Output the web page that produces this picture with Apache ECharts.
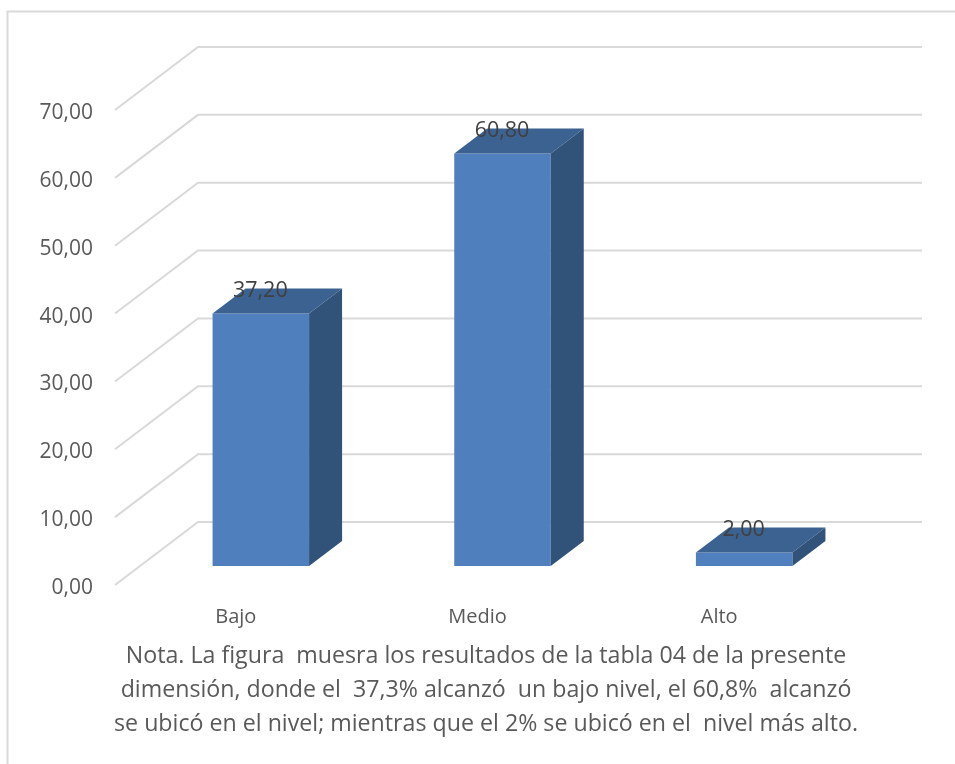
<!DOCTYPE html>
<html><head><meta charset="utf-8">
<style>html,body{margin:0;padding:0;background:#fff}#c{width:955px;height:764px}</style>
<script src="https://cdn.jsdelivr.net/npm/echarts@6/dist/echarts.min.js"></script>
</head><body><div id="c"></div>
<script>
const categories = ['Bajo', 'Medio', 'Alto'];
const values = [37.2, 60.8, 2.0];
const ticks = [0, 10, 20, 30, 40, 50, 60, 70];
const noteLines = [
  'Nota. La figura  muesra los resultados de la tabla 04 de la presente',
  'dimensión, donde el  37,3% alcanzó  un bajo nivel, el 60,8%  alcanzó',
  'se ubicó en el nivel; mientras que el 2% se ubicó en el  nivel más alto.'
];
const FONT = 'Open Sans';
const fmt = v => v.toFixed(2).replace('.', ',');
const chart = echarts.init(document.getElementById('c'), null, {renderer: 'canvas'});
chart.setOption({
  animation: false,
  backgroundColor: '#fff',
  grid: {left: 115, top: 110, width: 725, height: 475},
  xAxis: {type: 'category', data: categories, axisLine: {show: false}, axisTick: {show: false},
    axisLabel: {margin: 22, color: '#595959', fontFamily: FONT, fontSize: 20}},
  yAxis: {type: 'value', min: 0, max: 70, interval: 10, splitLine: {show: false}, axisLine: {show: false}, axisTick: {show: false},
    axisLabel: {margin: 22, formatter: v => '{a|' + fmt(v) + '}',
      rich: {a: {padding: [6, 0, 0, 0], color: '#595959', fontFamily: FONT, fontSize: 21}}}},
  title: {text: noteLines.join('\n'), left: 481, top: 634, textAlign: 'center',
    textStyle: {color: '#595959', fontFamily: FONT, fontSize: 23.2, fontWeight: 'normal', lineHeight: 34.3}},
  graphic: [{type: 'polyline', shape: {points: [[955, 11.5], [7.5, 11.5], [7.5, 764]]},
    style: {stroke: '#d9d9d9', lineWidth: 2, fill: null}, silent: true}],
  series: [
    {type: 'custom', clip: false, z: 1, data: ticks.map(t => [0, t]), encode: {x: 0, y: 1},
      renderItem(params, api) {
        const y = api.coord([0, api.value(1)])[1];
        const cs = params.coordSys, dx = 83, dy = -63;
        return {type: 'polyline', shape: {points: [[cs.x, y], [cs.x + dx, y + dy], [cs.x + cs.width + dx - 1, y + dy]]},
          style: {stroke: '#d9d9d9', lineWidth: 2, fill: null}};
      }},
    {type: 'custom', clip: false, z: 2, data: values.map((v, i) => [i, v]), encode: {x: 0, y: 1},
      renderItem(params, api) {
        const v = api.value(1);
        const top = api.coord([api.value(0), v]), base = api.coord([api.value(0), 0]);
        const ox = 25, oy = -19, hw = 48.25, dx = 33, dy = -25;
        const l = top[0] + ox - hw, r = top[0] + ox + hw, t = top[1] + oy, b = base[1] + oy;
        return {type: 'group', children: [
          {type: 'polygon', shape: {points: [[l, t], [r, t], [r, b], [l, b]]}, style: {fill: '#4f7fbc'}},
          {type: 'polygon', shape: {points: [[l, t], [r, t], [r + dx, t + dy], [l + dx, t + dy]]}, style: {fill: '#3b6291'}},
          {type: 'polygon', shape: {points: [[r, t], [r + dx, t + dy], [r + dx, b + dy], [r, b]]}, style: {fill: '#325379'}},
          {type: 'text', style: {text: fmt(v), x: (l + r) / 2 - 0.5, y: t - 23, align: 'center', verticalAlign: 'middle',
            fill: '#404040', font: '21.5px ' + FONT}}
        ]};
      }}
  ]
});
</script></body></html>
